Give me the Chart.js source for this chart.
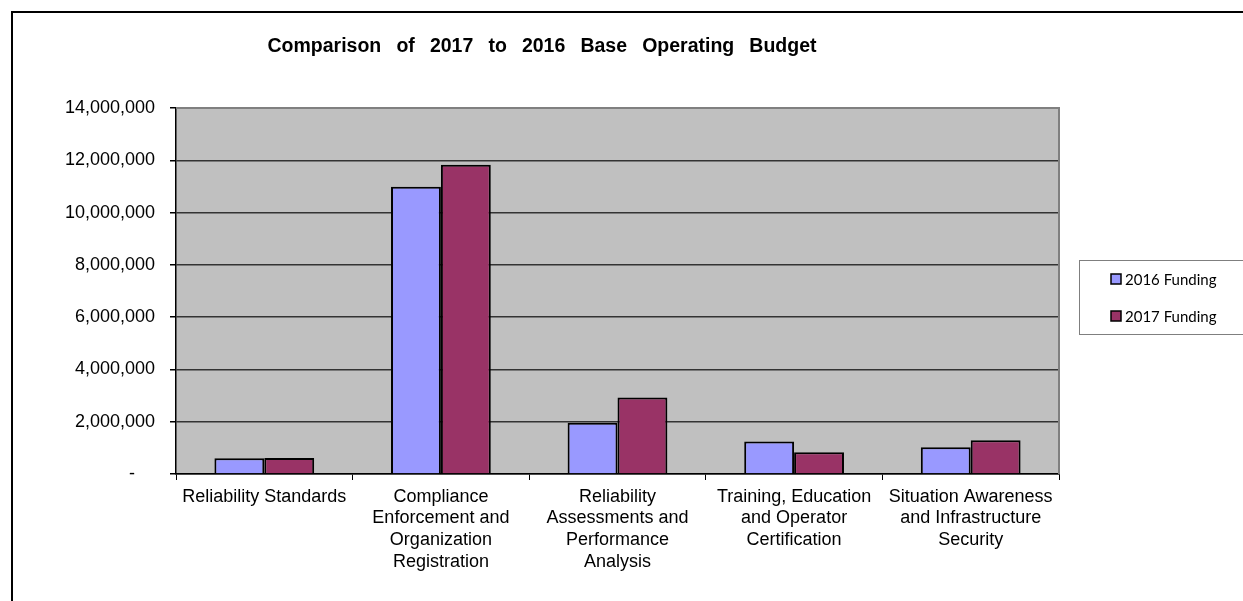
<!DOCTYPE html>
<html>
<head>
<meta charset="utf-8">
<script src="https://cdn.jsdelivr.net/npm/chart.js@4.4.1/dist/chart.umd.min.js"></script>
<style>
  html, body { margin: 0; padding: 0; background: #fff; overflow: hidden; }
  #frame { position: absolute; left: 11px; top: 11px; width: 1300px; height: 700px; border-left: 2px solid #000; border-top: 2px solid #000; }
  #wrap { position: absolute; left: 0; top: 0; width: 1243px; height: 601px; }
</style>
</head>
<body>
<div id="frame"></div>
<div id="wrap"><canvas id="budgetChart" width="1243" height="601"></canvas></div>
<script>
const chartTitle = 'Comparison of 2017 to 2016 Base Operating Budget';
const categories = [
  ['Reliability Standards'],
  ['Compliance', 'Enforcement and', 'Organization', 'Registration'],
  ['Reliability', 'Assessments and', 'Performance', 'Analysis'],
  ['Training, Education', 'and Operator', 'Certification'],
  ['Situation Awareness', 'and Infrastructure', 'Security'],
];
const seriesNames = ['2016 Funding', '2017 Funding'];
const funding2016 = [600000, 10990000, 1960000, 1240000, 1020000];
const funding2017 = [610000, 11830000, 2930000, 830000, 1290000];
const yTicks = [0, 2000000, 4000000, 6000000, 8000000, 10000000, 12000000, 14000000];

const colors = ['#9999FF', '#993366'];

// plot background + gray frame, title and boxed legend
const decor = {
  id: 'decor',
  beforeDraw(chart) {
    const { ctx, chartArea: a } = chart;
    ctx.save();
    ctx.fillStyle = '#C0C0C0';
    ctx.fillRect(a.left, a.top, a.right - a.left, a.bottom - a.top);
    ctx.restore();
  },
  afterDraw(chart) {
    const { ctx, chartArea: a } = chart;
    ctx.save();
    ctx.strokeStyle = '#808080';
    ctx.lineWidth = 2;
    ctx.beginPath();
    ctx.moveTo(a.left, a.top);
    ctx.lineTo(a.right, a.top);
    ctx.lineTo(a.right, a.bottom);
    ctx.stroke();

    // title
    ctx.font = 'bold 19.5px "Liberation Sans", Arial, sans-serif';
    ctx.fillStyle = '#000';
    ctx.textBaseline = 'middle';
    ctx.textAlign = 'left';
    const words = chartTitle.split(' ');
    const raw = words.reduce((s, w) => s + ctx.measureText(w).width, 0);
    const gap = (549 - raw) / (words.length - 1);
    let x = 542 - 549 / 2;
    words.forEach((w) => {
      ctx.fillText(w, x, 47);
      x += ctx.measureText(w).width + gap;
    });

    // legend
    ctx.strokeStyle = '#7f7f7f';
    ctx.lineWidth = 1;
    ctx.strokeRect(1079.5, 260.5, 175, 74);
    ctx.font = '15px Lato, "Open Sans", sans-serif';
    chart.data.datasets.forEach((ds, i) => {
      const y = 279 + i * 37;
      ctx.fillStyle = ds.backgroundColor;
      ctx.fillRect(1111, y - 5, 10, 10);
      ctx.strokeStyle = '#000';
      ctx.lineWidth = 1.5;
      ctx.strokeRect(1111, y - 5, 10, 10);
      ctx.fillStyle = '#000';
      ctx.fillText(ds.label, 1125, y + 1);
    });
    ctx.restore();
  },
};

const ctx = document.getElementById('budgetChart').getContext('2d');

new Chart(ctx, {
  type: 'bar',
  data: {
    labels: categories,
    datasets: [
      {
        label: seriesNames[0],
        data: funding2016,
        backgroundColor: colors[0],
        borderColor: '#000',
        borderWidth: 2,
      },
      {
        label: seriesNames[1],
        data: funding2017,
        backgroundColor: colors[1],
        borderColor: '#000',
        borderWidth: 2,
      },
    ],
  },
  options: {
    responsive: false,
    animation: false,
    events: [],
    layout: { padding: { left: 20, right: 184, top: 108, bottom: 10 } },
    datasets: { bar: { categoryPercentage: 0.565, barPercentage: 1 } },
    plugins: {
      legend: { display: false },
      title: { display: false },
      tooltip: { enabled: false },
    },
    scales: {
      x: {
        afterFit(scale) { scale.height = 117; },
        grid: { drawOnChartArea: false, drawTicks: true, tickLength: 6, tickColor: '#000', offset: true },
        border: { color: '#000', width: 1.5 },
        ticks: {
          color: '#000',
          font: { family: '"Liberation Sans", Arial, sans-serif', size: 18, lineHeight: 1.2 },
          padding: 6,
          maxRotation: 0,
          autoSkip: false,
        },
      },
      y: {
        min: 0,
        max: 14000000,
        afterFit(scale) { scale.width = 156; },
        afterBuildTicks(scale) { scale.ticks = yTicks.map((v) => ({ value: v })); },
        grid: {
          color: (c) => (c.tick && c.tick.value === 14000000 ? 'rgba(0,0,0,0)' : '#333'),
          tickColor: '#000',
          tickLength: 6,
          lineWidth: 1.5,
        },
        border: { color: '#000', width: 1.5 },
        ticks: {
          color: '#000',
          font: { family: '"Liberation Sans", Arial, sans-serif', size: 18 },
          padding: 15,
          callback: (v) => (v === 0 ? '-    ' : v.toLocaleString('en-US')),
        },
      },
    },
  },
  plugins: [decor],
});
</script>
</body>
</html>
